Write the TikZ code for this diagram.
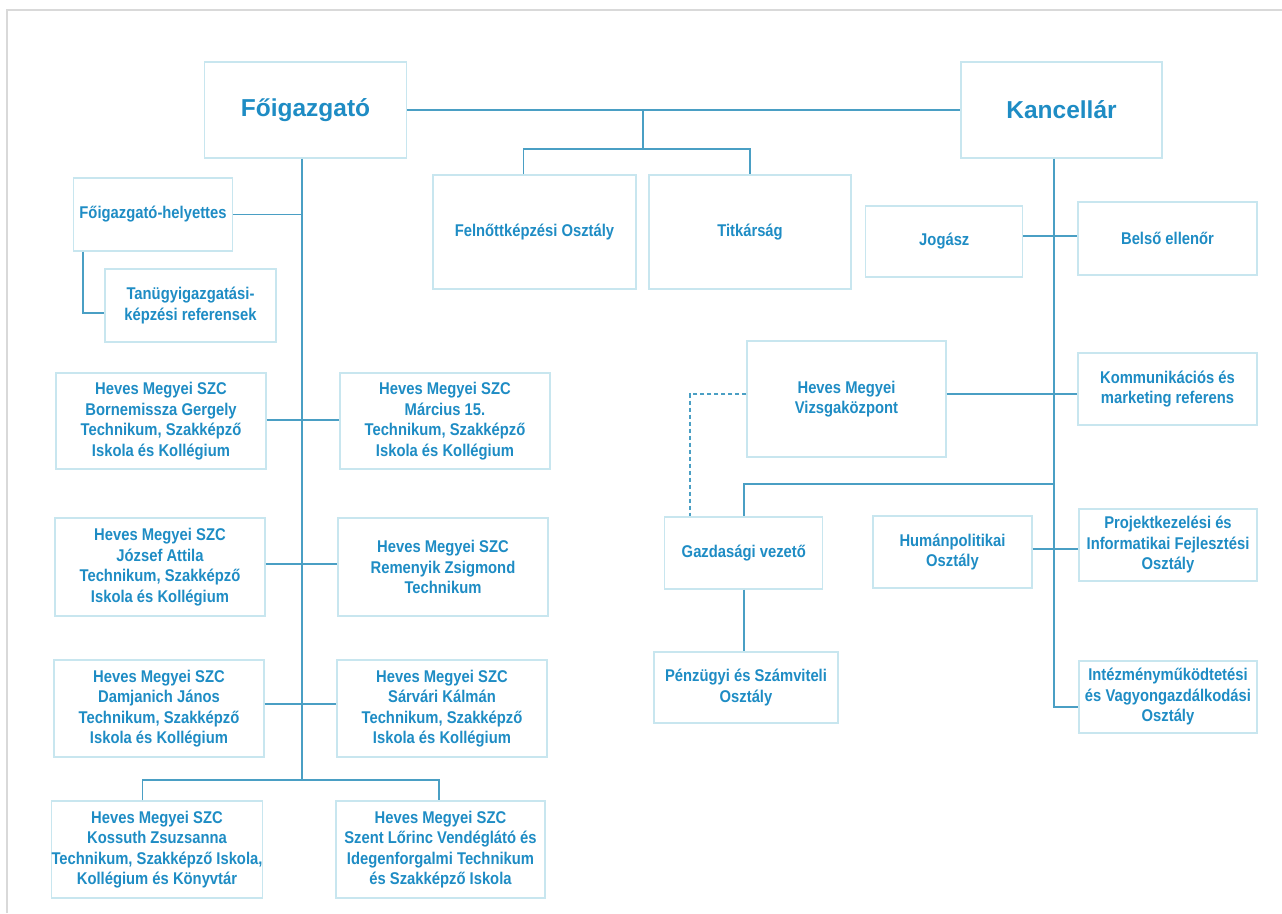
\documentclass[tikz,border=0pt]{standalone}
\usepackage{fontspec}
\setmainfont{Liberation Sans}
\newfontfamily\subf{Liberation Sans}[FakeStretch=0.87]
\newfontfamily\titf{Liberation Sans}
\definecolor{txtc}{HTML}{1E8CC4}
\definecolor{linec}{HTML}{4A9FC4}
\definecolor{boxc}{HTML}{C8E6EF}
\definecolor{framec}{HTML}{D9D9D9}
\tikzset{
  orgbox/.style={draw=boxc, line width=1.2pt, inner sep=0pt, align=center, text=txtc,
    font=\subf\bfseries\fontsize{17}{20.5}\selectfont},
  titbox/.style={orgbox, font=\titf\bfseries\fontsize{24.5}{29}\selectfont},
  conn/.style={draw=linec, line width=1.6pt},
  dconn/.style={conn, dashed, dash pattern=on 4pt off 3pt, line width=1.3pt},
  framel/.style={draw=framec, line width=1.2pt}
}
\begin{document}
\begin{tikzpicture}[x=1pt,y=-1pt]
\useasboundingbox (0,0) rectangle (1282,913);
% frame
\coordinate (fa) at (7,913);
\coordinate (fb) at (7,10);
\coordinate (fc) at (1282,10);
\draw[framel] (fa) -- (fb) -- (fc);

% top level
\node[titbox, minimum width=202pt, minimum height=96pt] (foig) at (305.5,110) {Főigazgató};
\node[titbox, minimum width=201pt, minimum height=96pt] (kanc) at (1061.5,110) {Kancellár};
\node[orgbox, minimum width=203pt, minimum height=114pt] (felnott) at (534.5,232) {Felnőttképzési Osztály};
\node[orgbox, minimum width=202pt, minimum height=114pt] (titk) at (750,232) {Titkárság};

% left side
\node[orgbox, minimum width=159pt, minimum height=73pt] (helyettes) at (153,214.5) {Főigazgató-helyettes};
\node[orgbox, minimum width=171pt, minimum height=73pt] (tanugy) at (190.5,305.5) {Tanügyigazgatási-\\képzési referensek};

\node[orgbox, minimum width=210pt, minimum height=96pt] (born) at (161,421) {Heves Megyei SZC\\Bornemissza Gergely\\Technikum, Szakképző\\Iskola és Kollégium};
\node[orgbox, minimum width=210pt, minimum height=96pt] (marc) at (445,421) {Heves Megyei SZC\\Március 15.\\Technikum, Szakképző\\Iskola és Kollégium};
\node[orgbox, minimum width=210pt, minimum height=98pt] (jozsef) at (160,567) {Heves Megyei SZC\\József Attila\\Technikum, Szakképző\\Iskola és Kollégium};
\node[orgbox, minimum width=210pt, minimum height=98pt] (remen) at (443,567) {Heves Megyei SZC\\Remenyik Zsigmond\\Technikum};
\node[orgbox, minimum width=210pt, minimum height=97pt] (damj) at (159,708.5) {Heves Megyei SZC\\Damjanich János\\Technikum, Szakképző\\Iskola és Kollégium};
\node[orgbox, minimum width=210pt, minimum height=97pt] (sarv) at (442,708.5) {Heves Megyei SZC\\Sárvári Kálmán\\Technikum, Szakképző\\Iskola és Kollégium};
\node[orgbox, minimum width=210pt, minimum height=97pt] (koss) at (157,849.5) {Heves Megyei SZC\\Kossuth Zsuzsanna\\Technikum, Szakképző Iskola,\\Kollégium és Könyvtár};
\node[orgbox, minimum width=209pt, minimum height=97pt] (szent) at (440.5,849.5) {Heves Megyei SZC\\Szent Lőrinc Vendéglátó és\\Idegenforgalmi Technikum\\és Szakképző Iskola};

% right side
\node[orgbox, minimum width=157pt, minimum height=71pt] (jogasz) at (944.3,241.5) {Jogász};
\node[orgbox, minimum width=179pt, minimum height=73pt] (belso) at (1167.5,238.5) {Belső ellenőr};
\node[orgbox, minimum width=199pt, minimum height=116pt] (vizsga) at (846.5,399) {Heves Megyei\\Vizsgaközpont};
\node[orgbox, minimum width=179pt, minimum height=72pt] (komm) at (1167.5,389) {Kommunikációs és\\marketing referens};
\node[orgbox, minimum width=158pt, minimum height=72pt] (gazd) at (743.8,553) {Gazdasági vezető};
\node[orgbox, minimum width=184pt, minimum height=71pt] (penz) at (746,687.5) {Pénzügyi és Számviteli\\Osztály};
\node[orgbox, minimum width=159pt, minimum height=72pt] (human) at (952.5,552) {Humánpolitikai\\Osztály};
\node[orgbox, minimum width=178pt, minimum height=72pt] (projekt) at (1168,545) {Projektkezelési és\\Informatikai Fejlesztési\\Osztály};
\node[orgbox, minimum width=178pt, minimum height=72pt] (intez) at (1168,697) {Intézményműködtetési\\és Vagyongazdálkodási\\Osztály};

% ---- connectors: top
\draw[conn] (foig.east) -- (kanc.west);
\coordinate (tm) at (643,110);
\coordinate (tj) at (643,149);
\coordinate (fl) at (523.4,149);
\coordinate (fr) at (750,149);
\draw[conn] (tm) -- (tj);
\draw[conn] (felnott.north -| fl) -- (fl) -- (fr) -- (titk.north);

% ---- left spine
\coordinate (sp) at (302,780);
\draw[conn] (foig.south -| sp) -- (sp);
\draw[conn] (helyettes.east) -- (helyettes.east -| sp);
\coordinate (hb) at (83,313);
\draw[conn] (helyettes.south -| hb) -- (hb) -- (hb -| tanugy.west);
\coordinate (r1) at (0,420);
\coordinate (r2) at (0,564);
\coordinate (r3) at (0,704);
\draw[conn] (born.east |- r1) -- (marc.west |- r1);
\draw[conn] (jozsef.east |- r2) -- (remen.west |- r2);
\draw[conn] (damj.east |- r3) -- (sarv.west |- r3);
\coordinate (bl) at (142.6,780);
\coordinate (br) at (439,780);
\draw[conn] (koss.north -| bl) -- (bl) -- (br) -- (szent.north -| br);

% ---- right spine
\coordinate (ks) at (1054,707);
\draw[conn] (kanc.south -| ks) -- (ks) -- (ks -| intez.west);
\coordinate (yj) at (0,236);
\draw[conn] (jogasz.east |- yj) -- (belso.west |- yj);
\coordinate (yv) at (0,394);
\draw[conn] (vizsga.east |- yv) -- (komm.west |- yv);
\coordinate (yh) at (0,549);
\draw[conn] (human.east |- yh) -- (projekt.west |- yh);
\coordinate (gk) at (1054,484);
\coordinate (gl) at (743.8,484);
\draw[conn] (gk) -- (gl) -- (gazd.north);
\draw[conn] (gazd.south) -- (gazd.south |- penz.north);
\coordinate (dv) at (690,394);
\draw[dconn] (vizsga.west |- yv) -- (dv) -- (dv |- gazd.north);
\end{tikzpicture}
\end{document}
